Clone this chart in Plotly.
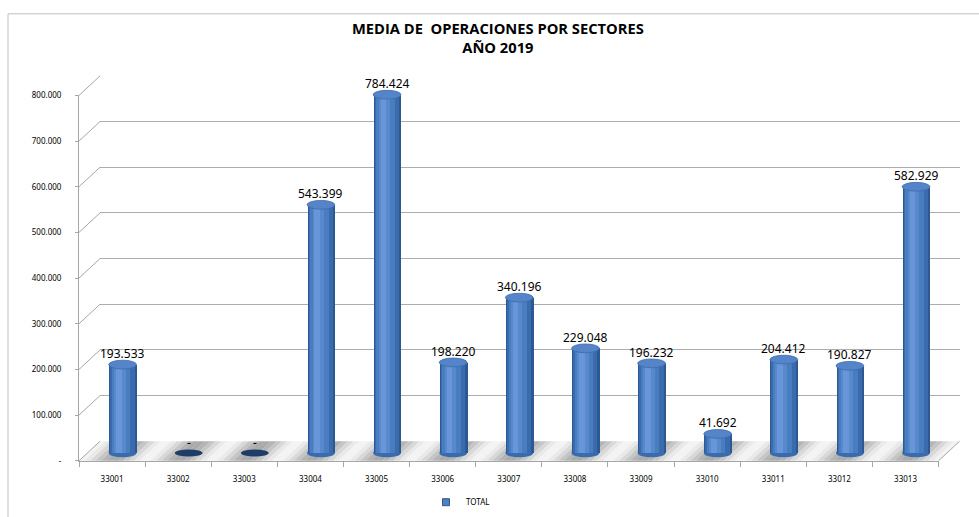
import math
import plotly.graph_objects as go

# ---------------- data ----------------
categories = ["33001", "33002", "33003", "33004", "33005", "33006", "33007",
              "33008", "33009", "33010", "33011", "33012", "33013"]
values = [193533, 0, 0, 543399, 784424, 198220, 340196, 229048, 196232,
          41692, 204412, 190827, 582929]
y_tick_values = [0, 100000, 200000, 300000, 400000, 500000, 600000, 700000, 800000]
y_tick_labels = ["-", "100.000", "200.000", "300.000", "400.000", "500.000",
                 "600.000", "700.000", "800.000"]
series_name = "TOTAL"
title_text = "MEDIA DE \u00a0OPERACIONES POR SECTORES<br>AÑO 2019"

# ---------------- geometry (pixels) ----------------
W, H = 979, 517
XL, XR = 79.0, 938.6          # front floor edge
Y0, YTOP = 466.5, 91.7        # front axis: 0 and max tick
VMAX = y_tick_values[-1]
DX, DY = 21.0, 20.0           # depth offset of back wall
BAR_DX, BAR_DY = 10.5, 8.0    # depth offset of the cylinders
n = len(categories)
s = (Y0 - YTOP) / VMAX        # px per unit
cat_px = (XR - XL) / n
FONT = "Noto Sans"


def px_x(xc, dx):
    return XL + (xc + 0.5) * cat_px + dx


def px_y(v, dy):
    return Y0 - dy - v * s


def pap_x(p):
    return p / W


def pap_y(p):
    return 1 - p / H


def xdom(dx, lo=-0.5, hi=None):
    hi = n - 0.5 if hi is None else hi
    return [pap_x(px_x(lo, dx)), pap_x(px_x(hi, dx))]


def ydom(dy, lo, hi):
    return [pap_y(px_y(lo, dy)), pap_y(px_y(hi, dy))]


def fmt(v):
    return "-" if v == 0 else f"{v:,}".replace(",", ".")


def mix(c1, c2, w):
    a = [int(c1[i:i + 2], 16) for i in (1, 3, 5)]
    b = [int(c2[i:i + 2], 16) for i in (1, 3, 5)]
    return "#" + "".join(f"{round(x + (y - x) * w):02x}" for x, y in zip(a, b))


fig = go.Figure()

# subplot 1: back wall (gridlines)
fig.add_trace(go.Scatter(x=[None], y=[None], xaxis="x", yaxis="y",
                         showlegend=False, hoverinfo="skip"))
# subplot 2: floor (drawn with shapes)
fig.add_trace(go.Scatter(x=[None], y=[None], xaxis="x2", yaxis="y2",
                         showlegend=False, hoverinfo="skip"))

# subplot 3: cylinders (layered bars for shading)
layers = [(-0.21, 0.21, "#2c5893"),
          (-0.195, 0.175, "#3a6cad"),
          (-0.17, 0.11, "#487dc0"),
          (-0.135, 0.04, "#5889cd"),
          (-0.105, -0.02, "#6797d8")]
x_idx = list(range(n))
for l, r, c in layers:
    fig.add_trace(go.Bar(x=x_idx, y=values, width=r - l, offset=l,
                         marker=dict(color=c, line=dict(width=0)),
                         xaxis="x3", yaxis="y3", showlegend=False,
                         hoverinfo="skip"))

# subplot 4: front axes + legend entry
fig.add_trace(go.Scatter(x=[None], y=[None], xaxis="x4", yaxis="y4",
                         mode="markers", name=series_name,
                         marker=dict(symbol="square", size=7, color="#4f81bd",
                                     line=dict(color="#2c5893", width=1)),
                         showlegend=True, hoverinfo="skip"))

shapes = []
annotations = []

# floor bands (in floor-subplot coordinates, a parallelogram per band)
dxc = (DX / 2) / cat_px
dvf = (DY / 2) / s
NB = 12
for i in range(n):
    for b in range(NB):
        t0 = -0.5 + b / NB
        t1 = -0.5 + (b + 1) / NB
        tm = (t0 + t1) / 2
        w = math.cos(math.pi * tm) ** 2
        col = mix("#f4f4f4", "#a9a9a9", w)
        xa, xb = i + t0, i + t1 + 0.004
        path = (f"M {xa - dxc},{-dvf} L {xb - dxc},{-dvf} "
                f"L {xb + dxc},{dvf} L {xa + dxc},{dvf} Z")
        shapes.append(dict(type="path", xref="x2", yref="y2", layer="below",
                           path=path, fillcolor=col, line=dict(width=0)))

dv = 4.5 / s
for i, v in enumerate(values):
    if v > 0:
        shapes.append(dict(type="circle", xref="x3", yref="y3", layer="below",
                           x0=i - 0.21, x1=i + 0.21, y0=-dv, y1=dv,
                           fillcolor="#3a6cad", line=dict(width=0)))
        shapes.append(dict(type="circle", xref="x3", yref="y3", layer="above",
                           x0=i - 0.21, x1=i + 0.21, y0=v - dv, y1=v + dv,
                           fillcolor="#5585c8", line=dict(color="#3a6cad", width=0.8)))
    else:
        shapes.append(dict(type="circle", xref="x3", yref="y3", layer="above",
                           x0=i - 0.21, x1=i + 0.21, y0=v - dv * 0.8, y1=v + dv * 0.8,
                           fillcolor="#1f3d66", line=dict(width=0)))
    annotations.append(dict(x=i, y=v, xref="x3", yref="y3", text=fmt(v),
                            showarrow=False, yanchor="bottom",
                            yshift=0.5 if v > 0 else 0,
                            font=dict(family=FONT, size=12, color="#000000")))

# diagonal connectors from front axis to back wall
for v in y_tick_values:
    shapes.append(dict(type="line", xref="paper", yref="paper", layer="above",
                       x0=pap_x(px_x(-0.5, 0)), y0=pap_y(px_y(v, 0)),
                       x1=pap_x(px_x(-0.5, DX)), y1=pap_y(px_y(v, DY)),
                       line=dict(color="#a6a6a6", width=1)))
# right floor edge
shapes.append(dict(type="line", xref="paper", yref="paper", layer="above",
                   x0=pap_x(px_x(n - 0.5, 0)), y0=pap_y(px_y(0, 0)),
                   x1=pap_x(px_x(n - 0.5, DX)), y1=pap_y(px_y(0, DY)),
                   line=dict(color="#a6a6a6", width=1)))
# chart border
shapes.append(dict(type="rect", xref="paper", yref="paper", layer="above",
                   x0=pap_x(8), x1=1.05, y0=-0.05, y1=pap_y(8),
                   line=dict(color="#bfbfbf", width=1)))

annotations.append(dict(x=pap_x(498), y=pap_y(32.5), xref="paper", yref="paper",
                        text="<b>" + title_text + "</b>", showarrow=False,
                        xanchor="center", yanchor="middle",
                        font=dict(family="Open Sans", size=14.7, color="#000000")))

hidden = dict(showgrid=False, zeroline=False, showticklabels=False,
              showline=False, ticks="")

mid_lo, mid_hi = -30000, 830000
fx_lo, fx_hi = -0.5 - 2 * dxc, n - 0.5 + 2 * dxc
fig.update_layout(
    width=W, height=H, autosize=False,
    margin=dict(l=0, r=0, t=0, b=0),
    paper_bgcolor="white", plot_bgcolor="rgba(0,0,0,0)",
    barmode="overlay", bargap=0,
    showlegend=True,
    legend=dict(orientation="h", x=pap_x(426), y=pap_y(509),
                xanchor="left", yanchor="middle",
                font=dict(family=FONT, size=8, color="#000000"),
                bgcolor="rgba(0,0,0,0)", itemwidth=30),
    # back wall
    xaxis=dict(domain=xdom(DX), range=[-0.5, n - 0.5], anchor="y", **hidden),
    yaxis=dict(domain=ydom(DY, 0, VMAX), range=[0, VMAX], anchor="x",
               showgrid=True, gridcolor="#adadad", gridwidth=1.2,
               tickmode="array", tickvals=y_tick_values,
               zeroline=False, showticklabels=False, showline=False, ticks=""),
    # floor
    xaxis2=dict(domain=xdom(DX / 2, fx_lo, fx_hi), range=[fx_lo, fx_hi],
                anchor="y2", **hidden),
    yaxis2=dict(domain=ydom(DY / 2, -2 * dvf, 2 * dvf), range=[-2 * dvf, 2 * dvf],
                anchor="x2", **hidden),
    # bars
    xaxis3=dict(domain=xdom(BAR_DX), range=[-0.5, n - 0.5], anchor="y3", **hidden),
    yaxis3=dict(domain=ydom(BAR_DY, mid_lo, mid_hi), range=[mid_lo, mid_hi],
                anchor="x3", **hidden),
    # front axes
    xaxis4=dict(domain=xdom(0), range=[-0.5, n - 0.5], anchor="y4",
                showgrid=False, zeroline=False, showline=True,
                linecolor="#a6a6a6", linewidth=1,
                tickmode="array", tickvals=x_idx, ticktext=categories,
                ticks="", ticklabelstandoff=11,
                tickfont=dict(family=FONT, size=8, color="#000000"),
                minor=dict(tick0=-0.5, dtick=1, ticks="outside", ticklen=5,
                           tickcolor="#a6a6a6", showgrid=False)),
    yaxis4=dict(domain=ydom(0, 0, VMAX), range=[0, VMAX], anchor="x4",
                showgrid=False, zeroline=False, showline=True,
                linecolor="#a6a6a6", linewidth=1,
                tickmode="array", tickvals=y_tick_values, ticktext=y_tick_labels,
                ticks="outside", ticklen=3, tickcolor="#a6a6a6",
                ticklabelstandoff=12,
                tickfont=dict(family=FONT, size=8, color="#000000")),
    shapes=shapes,
    annotations=annotations,
)

fig.write_html("out.html", config={"displayModeBar": False},
               post_script="document.body.style.margin='0';")
